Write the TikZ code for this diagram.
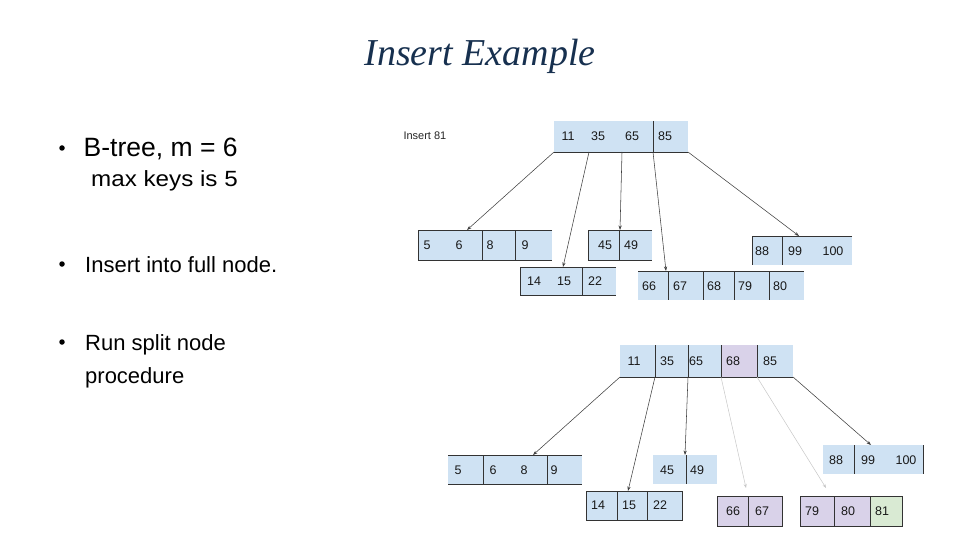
\documentclass[tikz,border=0pt]{standalone}
\usepackage{fontspec}
\setmainfont{Liberation Sans}
\newfontfamily\titlefont{Liberation Serif}
\usetikzlibrary{fit,arrows.meta}
\definecolor{cblue}{HTML}{CFE2F3}
\definecolor{cpurple}{HTML}{D9D2E9}
\definecolor{cgreen}{HTML}{D9EAD3}
\definecolor{ctitle}{HTML}{17304F}
\definecolor{cedge}{HTML}{333333}
\begin{document}
\begin{tikzpicture}[x=1pt,y=-1pt,
  box/.style={inner sep=0pt, outer sep=0pt, fill=cblue},
  edge/.style={draw=cedge, line width=0.7pt},
  key/.style={inner sep=0pt, font=\fontsize{12.5}{14}\selectfont, text=black!90},
  arr/.style={draw=black!75, line width=0.55pt, -{Stealth[length=4.5pt,width=3.2pt]}},
  farr/.style={draw=black!22, line width=0.5pt, -{Stealth[length=4pt,width=3pt]}},
  bigtext/.style={anchor=base west, inner sep=0pt, font=\fontsize{22}{26}\selectfont},
  bul/.style={circle, fill=black, inner sep=0pt, minimum size=5.5pt}
]
\useasboundingbox (0,0) rectangle (960,540);

% ---------- title and bullets ----------
\node[anchor=base, inner sep=0pt, font=\titlefont\itshape\fontsize{38}{42}\selectfont, text=ctitle] (title) at (480,66) {Insert Example};

\node[bul] (b1) at (62,148) {};
\node[anchor=base west, inner sep=0pt, font=\fontsize{26.5}{30}\selectfont] (l1) at (83.5,157) {B-tree, m = 6};
\node[anchor=base west, inner sep=0pt, font=\fontsize{22}{26}\selectfont] (l2) at (91,186) {\scalebox{1.1}[1]{max keys is 5}};
\node[bul] (b2) at (62,264) {};
\node[bigtext] (l3) at (85,272.3) {Insert into full node.};
\node[bul] (b3) at (62,342) {};
\node[bigtext] (l4) at (85,350) {Run split node};
\node[bigtext] (l5) at (85,383) {procedure};

\node[anchor=base west, inner sep=0pt, font=\fontsize{11}{12}\selectfont, text=black!85] (ins) at (403.3,140) {Insert 81};

% ---------- top tree ----------
\node[box, fit={(554,121) (688,152)}] (TR) {};
\draw[edge] (TR.south west) -- (TR.south east);
\draw[edge] (653,121) -- (653,152);
\node[key] (tr11) at (568,136) {11};
\node[key] (tr35) at (598,136) {35};
\node[key] (tr65) at (632,136) {65};
\node[key] (tr85) at (665,136) {85};

\node[box, fit={(418,230) (552,260)}] (T1) {};
\draw[edge] (T1.north east) -- (T1.north west) -- (T1.south west) -- (T1.south east);
\draw[edge] (482,230) -- (482,260) (515,230) -- (515,260);
\node[key] (t1a) at (427,245) {5};
\node[key] (t1b) at (459,245) {6};
\node[key] (t1c) at (490,245) {8};
\node[key] (t1d) at (525,245) {9};

\node[box, fit={(588,230) (652,260)}] (T2) {};
\draw[edge] (T2.north east) -- (T2.north west) -- (T2.south west) -- (T2.south east);
\draw[edge] (619,230) -- (619,260);
\node[key] (t2a) at (605,245) {45};
\node[key] (t2b) at (631,245) {49};

\node[box, fit={(520,267) (616,295)}] (T3) {};
\draw[edge] (T3.north east) -- (T3.north west) -- (T3.south west) -- (T3.south east);
\draw[edge] (582,267) -- (582,295);
\node[key] (t3a) at (534,281) {14};
\node[key] (t3b) at (564,281) {15};
\node[key] (t3c) at (595,281) {22};

\node[box, fit={(638,271) (804,300)}] (T4) {};
\draw[edge] (T4.north west) -- (T4.north east);
\draw[edge] (668,271) -- (668,300) (703,271) -- (703,300) (734,271) -- (734,300) (769,271) -- (769,300);
\node[key] (t4a) at (649,286) {66};
\node[key] (t4b) at (680,286) {67};
\node[key] (t4c) at (714,286) {68};
\node[key] (t4d) at (745,286) {79};
\node[key] (t4e) at (780,286) {80};

\node[box, fit={(752,236) (852,265)}] (T5) {};
\draw[edge] (T5.north east) -- (T5.north west) -- (T5.south west);
\draw[edge] (782,236) -- (782,265);
\node[key] (t5a) at (762,251) {88};
\node[key] (t5b) at (795,251) {99};
\node[key] (t5c) at (833,251) {100};

\coordinate (ts2) at (589,152);
\coordinate (ts3) at (622,152);
\coordinate (ts4) at (653,152);
\draw[arr] (TR.south west) -- ([xshift=-18pt]T1.north);
\draw[arr] (ts2) -- ([xshift=-5pt]T3.north);
\draw[arr] (ts3) -- (T2.north);
\draw[arr] (ts4) -- ([xshift=-55pt]T4.north);
\draw[arr] (TR.south east) -- ([xshift=-3pt]T5.north);

% ---------- bottom tree ----------
\node[box, fit={(620,345) (793,377)}] (BR) {};
\node[inner sep=0pt, outer sep=0pt, fill=cpurple, fit={(721,345) (757,377)}] (BRp) {};
\draw[edge] (BR.south west) -- (BR.south east);
\draw[edge] (655,345) -- (655,377) (688,345) -- (688,377) (721,345) -- (721,377) (757,345) -- (757,377);
\node[key] (br11) at (634,361) {11};
\node[key] (br35) at (667,361) {35};
\node[key] (br65) at (696,361) {65};
\node[key] (br68) at (733,361) {68};
\node[key] (br85) at (770,361) {85};

\node[box, fit={(448,455) (582,484)}] (B1) {};
\draw[edge] (B1.north west) -- (B1.north east) (B1.south west) -- (B1.south east);
\draw[edge] (483,455) -- (483,484) (547,455) -- (547,484);
\node[key] (b1a) at (458,470) {5};
\node[key] (b1b) at (493,470) {6};
\node[key] (b1c) at (524,470) {8};
\node[key] (b1d) at (554,470) {9};

\node[box, fit={(653,455) (717,484)}] (B2) {};
\draw[edge] (686,455) -- (686,484);
\node[key] (b2a) at (667,470) {45};
\node[key] (b2b) at (697,470) {49};

\node[box, draw=cedge, line width=0.7pt, fit={(586,491) (682,520)}] (B3) {};
\draw[edge] (617,491) -- (617,520) (647,491) -- (647,520);
\node[key] (b3a) at (598,505) {14};
\node[key] (b3b) at (629,505) {15};
\node[key] (b3c) at (660,505) {22};

\node[box, fit={(823,445) (923,474)}] (B4) {};
\draw[edge] (B4.north east) -- (B4.south east);
\draw[edge] (854,445) -- (854,474);
\node[key] (b4a) at (836,460) {88};
\node[key] (b4b) at (868,460) {99};
\node[key] (b4c) at (906,460) {100};

\node[box, fill=cpurple, draw=cedge, line width=0.7pt, fit={(717,496) (782,526)}] (B5) {};
\draw[edge] (748,496) -- (748,526);
\node[key] (b5a) at (733,511) {66};
\node[key] (b5b) at (762,511) {67};

\node[inner sep=0pt, outer sep=0pt, fill=cpurple, fit={(800,496) (870,526)}] (B6p) {};
\node[inner sep=0pt, outer sep=0pt, fill=cgreen, fit={(870,496) (902,526)}] (B6g) {};
\node[inner sep=0pt, outer sep=0pt, draw=cedge, line width=0.7pt, fit={(800,496) (902,526)}] (B6) {};
\draw[edge] (834,496) -- (834,526) (870,496) -- (870,526);
\node[key] (b6a) at (812,511) {79};
\node[key] (b6b) at (848,511) {80};
\node[key] (b6c) at (882,511) {81};

\coordinate (bs2) at (655,377);
\coordinate (bs3) at (688,377);
\coordinate (bs4) at (721,377);
\coordinate (bs5) at (757,377);
\draw[arr] (BR.south west) -- ([xshift=18pt]B1.north);
\draw[arr] (bs2) -- ([xshift=-6pt]B3.north);
\draw[arr] (bs3) -- (B2.north);
\draw[farr] (bs4) -- ([xshift=-3.5pt,yshift=8pt]B5.north);
\draw[farr] (bs5) -- ([xshift=-25pt,yshift=8pt]B6.north);
\draw[arr] (BR.south east) -- ([xshift=-2pt]B4.north);
\end{tikzpicture}
\end{document}
